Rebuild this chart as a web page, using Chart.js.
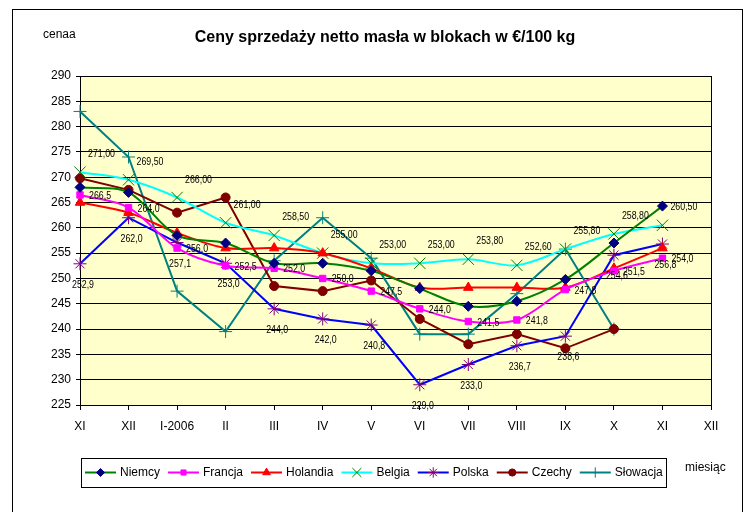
<!DOCTYPE html>
<html>
<head>
<meta charset="utf-8">
<script src="https://cdn.jsdelivr.net/npm/chart.js@4.4.1/dist/chart.umd.min.js"></script>
<style>
  html, body { margin: 0; padding: 0; background: #fff; }
  canvas { display: block; }
</style>
</head>
<body>
<canvas id="chart" width="747" height="512"></canvas>
<script>
// miesiące (oś X)
const months = ["XI", "XII", "I-2006", "II", "III", "IV", "V", "VI", "VII", "VIII", "IX", "X", "XI", "XII"];

// ceny w EUR/100 kg
const niemcy   = [268.0, 267.0, 258.5, 257.0, 253.0, 253.0, 251.5, 248.0, 244.5, 245.5, 249.8, 257.0, 264.3, null];
const francja  = [266.5, 264.0, 256.0, 252.5, 252.0, 250.0, 247.5, 244.0, 241.5, 241.8, 247.8, 251.5, 254.0, null];
const holandia = [265.0, 263.0, 259.0, 256.0, 256.0, 255.0, 252.0, 248.2, 248.2, 248.2, 248.2, 252.0, 256.0, null];
const belgia   = [271.0, 269.5, 266.0, 261.0, 258.5, 255.0, 253.0, 253.0, 253.8, 252.6, 255.8, 258.8, 260.5, null];
const polska   = [252.9, 262.0, 257.1, 253.0, 244.0, 242.0, 240.8, 229.0, 233.0, 236.7, 238.6, 254.6, 256.8, null];
const czechy   = [269.8, 267.5, 263.0, 266.0, 248.5, 247.5, 249.6, 242.0, 237.0, 239.0, 236.2, 240.0, null, null];
const slowacja = [283.0, 274.0, 247.5, 239.5, 253.5, 262.0, 254.0, 239.0, 239.0, 247.0, 255.8, 240.0, null, null];

// oś Y
const yMin = 225;
const yMax = 290;
const yStep = 5;

const labelFont = "11px Arial, 'Liberation Sans', sans-serif";

function series(label, data, line, marker, style, radius, smooth, labels) {
  return {
    label: label,
    data: data,
    borderColor: line,
    backgroundColor: line,
    borderWidth: 2,
    tension: smooth ? 0.33 : 0,
    pointStyle: style,
    pointRadius: radius,
    pointBackgroundColor: marker,
    pointBorderColor: marker,
    pointBorderWidth: 1,
    labels: labels // null | {digits, where}
  };
}

const datasets = [
  series("Niemcy",   niemcy,   "#008000", "#000080", "rectRot",  5,   true,  null),
  series("Francja",  francja,  "#FF00FF", "#FF00FF", "rect",     4.5, true,  { digits: 1, where: "right" }),
  series("Holandia", holandia, "#FF0000", "#FF0000", "triangle", 5.5, true,  null),
  series("Belgia",   belgia,   "#00FFFF", "#008000", "crossRot", 8,   true,  { digits: 2, where: "above" }),
  series("Polska",   polska,   "#0000FF", "#800080", "star",     6.5, false, { digits: 1, where: "below" }),
  series("Czechy",   czechy,   "#800000", "#800000", "circle",   4.5, false, null),
  series("Słowacja", slowacja, "#008080", "#008080", "cross",    6.5, false, null)
];

// tekst zwężony jak w oryginale
function narrowText(ctx, txt, x, y, align) {
  const w = ctx.measureText(txt).width * 0.8;
  let left = x;
  if (align === "center") left = x - w / 2;
  ctx.save();
  ctx.translate(left, y);
  ctx.scale(0.8, 1);
  ctx.textAlign = "left";
  ctx.textBaseline = "middle";
  ctx.fillText(txt, 0, 0);
  ctx.restore();
}

const decor = {
  id: "decor",
  beforeDraw(chart) {
    const { ctx, chartArea: a } = chart;
    ctx.save();
    ctx.fillStyle = "#fff";
    ctx.fillRect(0, 0, chart.width, chart.height);
    ctx.strokeStyle = "#000";
    ctx.lineWidth = 1;
    ctx.strokeRect(12.5, 9.5, 730, 520);
    ctx.fillStyle = "#FFFFCC";
    ctx.fillRect(a.left, a.top, a.right - a.left, a.bottom - a.top);
    ctx.restore();
  },
  beforeDatasetsDraw(chart) {
    const { ctx, chartArea: a } = chart;
    ctx.save();
    ctx.strokeStyle = "#000";
    ctx.lineWidth = 1;
    ctx.beginPath();
    ctx.moveTo(Math.round(a.right) + 0.5, a.top);
    ctx.lineTo(Math.round(a.right) + 0.5, a.bottom);
    ctx.stroke();
    ctx.restore();
  },
  afterDatasetsDraw(chart) {
    // etykiety danych
    const ctx = chart.ctx;
    ctx.save();
    ctx.font = labelFont;
    ctx.fillStyle = "#000";
    chart.data.datasets.forEach((ds, i) => {
      if (!ds.labels) return;
      const meta = chart.getDatasetMeta(i);
      meta.data.forEach((pt, j) => {
        const v = ds.data[j];
        if (v === null) return;
        const txt = v.toFixed(ds.labels.digits).replace(".", ",");
        if (ds.labels.where === "right") {
          narrowText(ctx, txt, pt.x + 9, pt.y + 1, "left");
        } else if (ds.labels.where === "above") {
          narrowText(ctx, txt, pt.x + 8, pt.y - 18, "left");
        } else {
          narrowText(ctx, txt, pt.x + 3, pt.y + 21, "center");
        }
      });
    });
    ctx.restore();
  },
  afterDraw(chart) {
    const ctx = chart.ctx;
    ctx.save();
    // tytuł i opisy osi
    ctx.fillStyle = "#000";
    ctx.textBaseline = "middle";
    ctx.font = "bold 16px Arial, 'Liberation Sans', sans-serif";
    ctx.textAlign = "center";
    ctx.fillText("Ceny sprzedaży netto masła w blokach w €/100 kg", 385, 38);
    ctx.font = "12px Arial, 'Liberation Sans', sans-serif";
    ctx.textAlign = "left";
    ctx.fillText("cenaa", 43, 35);
    ctx.fillText("miesiąc", 685, 468);

    // legenda
    const top = 458, bottom = 487, cy = (top + bottom) / 2;
    ctx.strokeStyle = "#000";
    ctx.lineWidth = 1;
    ctx.strokeRect(81.5, top + 0.5, 585, bottom - top);
    let x = 85;
    chart.data.datasets.forEach((ds) => {
      ctx.strokeStyle = ds.borderColor;
      ctx.lineWidth = 2;
      ctx.beginPath();
      ctx.moveTo(x, cy);
      ctx.lineTo(x + 31, cy);
      ctx.stroke();
      ctx.fillStyle = ds.pointBackgroundColor;
      ctx.strokeStyle = ds.pointBorderColor;
      ctx.lineWidth = 1;
      Chart.helpers.drawPoint(ctx, {
        pointStyle: ds.pointStyle,
        radius: ds.pointRadius * 0.8,
        rotation: 0,
        borderWidth: 1
      }, x + 15.5, cy);
      ctx.fillStyle = "#000";
      ctx.font = "12px Arial, 'Liberation Sans', sans-serif";
      ctx.textAlign = "left";
      ctx.fillText(ds.label, x + 35, cy);
      x += 35 + ctx.measureText(ds.label).width + 8;
    });
    ctx.restore();
  }
};

new Chart(document.getElementById("chart"), {
  type: "line",
  data: { labels: months, datasets: datasets },
  options: {
    responsive: false,
    animation: false,
    layout: { padding: { top: 76, right: 36, bottom: 0, left: 0 } },
    plugins: {
      legend: { display: false },
      title: { display: false },
      tooltip: { enabled: false }
    },
    scales: {
      x: {
        offset: false,
        grid: { drawOnChartArea: false, drawTicks: true, tickLength: 5, color: "#000" },
        border: { color: "#000" },
        ticks: {
          color: "#000",
          font: { family: "Arial", size: 12 },
          padding: 9,
          maxRotation: 0,
          autoSkip: false
        },
        afterFit(scale) { scale.height = 107; }
      },
      y: {
        min: yMin,
        max: yMax,
        grid: { color: "#000", tickLength: 4 },
        border: { color: "#000" },
        ticks: {
          stepSize: yStep,
          color: "#000",
          font: { family: "Arial", size: 12 },
          padding: 5
        },
        afterFit(scale) { scale.width = 80; }
      }
    }
  },
  plugins: [decor]
});
</script>
</body>
</html>
